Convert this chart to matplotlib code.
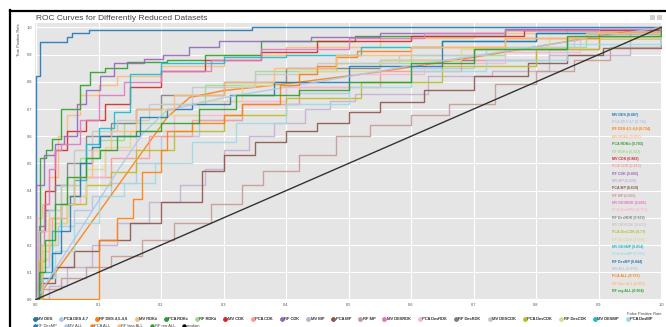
import matplotlib
matplotlib.use("Agg")
import matplotlib.pyplot as plt
from matplotlib.lines import Line2D
from matplotlib.patches import Rectangle

plt.rcParams["font.family"] = ["Liberation Sans", "DejaVu Sans"]

labels = [
    "MV DES", "PCA DES 4,7", "RF DES 4,5-4,6", "MV RDKit", "PCA RDKit", "RF RDKit",
    "MV CDK", "PCA CDK", "RF CDK", "MV MP", "PCA MP", "RF MP",
    "MV DESRDK", "PCA DesRDK", "RF DesRDK", "MV DESCDK", "PCA DesCDK", "RF DesCDK",
    "MV DESMP", "PCA DesMP", "RF DesMP", "MV ALL", "PCA ALL", "RF bias ALL", "RF reg ALL",
]
auc = [
    0.887, 0.736, 0.734, 0.857, 0.783, 0.822, 0.883, 0.812, 0.855, 0.835, 0.619, 0.605,
    0.881, 0.771, 0.839, 0.872, 0.77, 0.836, 0.854, 0.706, 0.844, 0.875, 0.737, 0.807, 0.904,
]
colors = [
    "#1f77b4", "#aec7e8", "#ff7f0e", "#ffbb78", "#2ca02c", "#98df8a", "#d62728", "#ff9896",
    "#9467bd", "#c5b0d5", "#8c564b", "#c49c94", "#e377c2", "#f7b6d2", "#7f7f7f", "#c7c7c7",
    "#bcbd22", "#dbdb8d", "#17becf", "#9edae5", "#1f77b4", "#aec7e8", "#ff7f0e", "#ffbb78",
    "#2ca02c",
]

# ROC points (fpr, tpr); most curves are staircases
fpr_mv_des = [0, 0, 0.007, 0.05, 0.057, 0.085, 0.345, 1]
tpr_mv_des = [0, 0.82, 0.946, 0.964, 0.98, 0.99, 1, 1]
fpr_pca_des = [0, 0.01, 0.02, 0.035, 0.06, 0.09, 0.12, 0.16, 0.2, 0.26, 0.33, 0.42, 0.5, 0.6, 0.7, 0.82, 0.9, 1]
tpr_pca_des = [0, 0.12, 0.2, 0.27, 0.33, 0.38, 0.43, 0.5, 0.6, 0.66, 0.72, 0.76, 0.8, 0.85, 0.88, 0.92, 0.96, 1]
fpr_rf_des = [0, 0.21, 0.246, 0.3, 0.39, 0.534, 0.7, 0.918, 1]
tpr_rf_des = [0, 0.67, 0.743, 0.768, 0.79, 0.832, 0.89, 0.975, 1]
fpr_mv_rdk = [0, 0, 0.01, 0.02, 0.035, 0.05, 0.07, 0.1, 0.13, 0.2, 0.3, 0.4, 0.55, 0.7, 0.85, 1]
tpr_mv_rdk = [0, 0.3, 0.35, 0.45, 0.6, 0.68, 0.75, 0.79, 0.82, 0.86, 0.9, 0.93, 0.96, 0.98, 0.99, 1]
fpr_pca_rdk = [0, 0.006, 0.016, 0.025, 0.04, 0.07, 0.086, 0.11, 0.146, 0.21, 0.27, 0.36, 0.51, 0.75, 1]
tpr_pca_rdk = [0, 0.52, 0.55, 0.59, 0.7, 0.79, 0.836, 0.85, 0.873, 0.88, 0.9, 0.95, 0.968, 0.99, 1]
fpr_rf_rdk = [0, 0.008, 0.02, 0.04, 0.07, 0.1, 0.14, 0.2, 0.27, 0.35, 0.48, 0.6, 0.75, 0.88, 1]
tpr_rf_rdk = [0, 0.15, 0.3, 0.42, 0.52, 0.585, 0.65, 0.72, 0.79, 0.84, 0.87, 0.9, 0.93, 0.97, 1]
fpr_mv_cdk = [0, 0.005, 0.015, 0.03, 0.05, 0.08, 0.11, 0.15, 0.2, 0.27, 0.36, 0.45, 0.6, 0.78, 1]
tpr_mv_cdk = [0, 0.25, 0.4, 0.55, 0.62, 0.66, 0.72, 0.78, 0.84, 0.88, 0.91, 0.95, 0.97, 0.99, 1]
fpr_pca_cdk = [0, 0.01, 0.025, 0.05, 0.08, 0.12, 0.18, 0.25, 0.33, 0.42, 0.55, 0.68, 0.8, 0.9, 1]
tpr_pca_cdk = [0, 0.2, 0.3, 0.38, 0.45, 0.52, 0.6, 0.66, 0.72, 0.78, 0.84, 0.88, 0.92, 0.96, 1]
fpr_rf_cdk = [0, 0, 0.012, 0.03, 0.045, 0.065, 0.08, 0.102, 0.124, 0.172, 0.203, 0.245, 0.293, 0.44, 0.55, 0.75, 1]
tpr_rf_cdk = [0, 0.42, 0.53, 0.57, 0.6, 0.72, 0.77, 0.823, 0.87, 0.885, 0.9, 0.93, 0.95, 0.965, 0.98, 0.995, 1]
fpr_mv_mp = [0, 0.02, 0.05, 0.09, 0.13, 0.18, 0.23, 0.27, 0.3, 0.34, 0.38, 0.43, 0.47, 0.51, 0.627, 0.73, 0.82, 0.95, 1]
tpr_mv_mp = [0, 0.05, 0.12, 0.2, 0.28, 0.36, 0.42, 0.48, 0.55, 0.6, 0.65, 0.7, 0.73, 0.757, 0.823, 0.84, 0.9, 0.98, 1]
fpr_pca_mp = [0, 0.005, 0.03, 0.06, 0.1, 0.15, 0.2, 0.265, 0.3, 0.35, 0.4, 0.45, 0.5, 0.55, 0.62, 0.7, 0.787, 0.85, 0.907, 1]
tpr_pca_mp = [0, 0.06, 0.12, 0.18, 0.22, 0.28, 0.36, 0.474, 0.53, 0.58, 0.62, 0.65, 0.69, 0.725, 0.77, 0.82, 0.868, 0.9, 0.923, 1]
fpr_rf_mp = [0, 0.01, 0.04, 0.08, 0.12, 0.17, 0.22, 0.28, 0.33, 0.363, 0.42, 0.48, 0.534, 0.6, 0.66, 0.734, 0.8, 0.86, 0.918, 1]
tpr_rf_mp = [0, 0.04, 0.08, 0.12, 0.16, 0.22, 0.28, 0.35, 0.42, 0.474, 0.53, 0.6, 0.643, 0.68, 0.72, 0.794, 0.84, 0.88, 0.927, 1]
fpr_mv_desrdk = [0, 0.005, 0.012, 0.02, 0.03, 0.04, 0.07, 0.1, 0.14, 0.2, 0.28, 0.36, 0.5, 0.62, 0.75, 0.9, 1]
tpr_mv_desrdk = [0, 0.2, 0.35, 0.48, 0.55, 0.57, 0.66, 0.75, 0.8, 0.84, 0.88, 0.92, 0.96, 0.98, 0.99, 0.995, 1]
fpr_pca_desrdk = [0, 0.01, 0.02, 0.04, 0.07, 0.11, 0.16, 0.22, 0.3, 0.4, 0.5, 0.62, 0.75, 0.87, 1]
tpr_pca_desrdk = [0, 0.15, 0.25, 0.35, 0.45, 0.55, 0.62, 0.68, 0.73, 0.78, 0.83, 0.87, 0.91, 0.96, 1]
fpr_rf_desrdk = [0, 0.005, 0.015, 0.03, 0.05, 0.08, 0.12, 0.16, 0.2, 0.3, 0.4, 0.55, 0.7, 0.85, 1]
tpr_rf_desrdk = [0, 0.27, 0.33, 0.42, 0.5, 0.6, 0.65, 0.7, 0.75, 0.8, 0.85, 0.88, 0.92, 0.96, 1]
fpr_mv_descdk = [0, 0.005, 0.02, 0.04, 0.06, 0.09, 0.13, 0.18, 0.25, 0.35, 0.45, 0.58, 0.72, 0.86, 1]
tpr_mv_descdk = [0, 0.25, 0.33, 0.42, 0.55, 0.62, 0.66, 0.72, 0.78, 0.83, 0.87, 0.9, 0.93, 0.97, 1]
fpr_pca_descdk = [0, 0.005, 0.015, 0.03, 0.05, 0.08, 0.12, 0.16, 0.22, 0.3, 0.4, 0.52, 0.65, 0.8, 0.9, 1]
tpr_pca_descdk = [0, 0.14, 0.2, 0.28, 0.35, 0.42, 0.47, 0.55, 0.62, 0.68, 0.74, 0.8, 0.86, 0.92, 0.96, 1]
fpr_rf_descdk = [0, 0.01, 0.03, 0.05, 0.08, 0.11, 0.15, 0.2, 0.26, 0.33, 0.42, 0.55, 0.68, 0.82, 1]
tpr_rf_descdk = [0, 0.2, 0.28, 0.38, 0.48, 0.56, 0.62, 0.68, 0.73, 0.79, 0.84, 0.88, 0.92, 0.96, 1]
fpr_mv_desmp = [0, 0.01, 0.025, 0.04, 0.06, 0.08, 0.1, 0.125, 0.15, 0.2, 0.3, 0.4, 0.52, 0.65, 0.8, 1]
tpr_mv_desmp = [0, 0.1, 0.25, 0.35, 0.44, 0.57, 0.63, 0.69, 0.83, 0.87, 0.89, 0.9, 0.93, 0.95, 0.98, 1]
fpr_pca_desmp = [0, 0.01, 0.03, 0.06, 0.1, 0.14, 0.19, 0.25, 0.32, 0.4, 0.5, 0.6, 0.72, 0.85, 1]
tpr_pca_desmp = [0, 0.08, 0.18, 0.28, 0.38, 0.43, 0.5, 0.58, 0.65, 0.72, 0.78, 0.84, 0.88, 0.94, 1]
fpr_rf_desmp = [0, 0.01, 0.025, 0.04, 0.055, 0.07, 0.09, 0.102, 0.166, 0.21, 0.25, 0.31, 0.38, 0.5, 0.65, 0.8, 1]
tpr_rf_desmp = [0, 0.08, 0.17, 0.25, 0.38, 0.5, 0.56, 0.6, 0.67, 0.7, 0.72, 0.75, 0.8, 0.86, 0.95, 0.98, 1]
fpr_mv_all = [0, 0.134, 0.171, 0.209, 0.305, 0.45, 0.6, 0.8, 1]
tpr_mv_all = [0, 0.485, 0.61, 0.695, 0.744, 0.8, 0.86, 0.93, 1]
fpr_pca_all = [0, 0.1, 0.13, 0.155, 0.17, 0.2, 0.21, 0.25, 0.3, 0.33, 0.39, 0.42, 0.45, 0.48, 0.514, 0.6, 0.75, 0.9, 1]
tpr_pca_all = [0, 0.22, 0.3, 0.37, 0.47, 0.55, 0.62, 0.65, 0.68, 0.72, 0.79, 0.83, 0.86, 0.89, 0.915, 0.93, 0.96, 0.98, 1]
fpr_rf_bias = [0, 0.01, 0.02, 0.04, 0.06, 0.09, 0.12, 0.16, 0.22, 0.3, 0.38, 0.48, 0.6, 0.75, 0.88, 1]
tpr_rf_bias = [0, 0.18, 0.3, 0.35, 0.45, 0.55, 0.62, 0.7, 0.75, 0.8, 0.85, 0.9, 0.93, 0.96, 0.98, 1]
fpr_rf_reg = [0, 0.005, 0.015, 0.03, 0.05, 0.08, 0.102, 0.13, 0.16, 0.2, 0.26, 0.32, 0.42, 0.5, 0.6, 0.7, 0.85, 1]
tpr_rf_reg = [0, 0.1, 0.22, 0.35, 0.45, 0.52, 0.55, 0.6, 0.62, 0.65, 0.7, 0.75, 0.77, 0.8, 0.87, 0.92, 0.97, 1]

curves = [
    (fpr_mv_des, tpr_mv_des), (fpr_pca_des, tpr_pca_des), (fpr_rf_des, tpr_rf_des),
    (fpr_mv_rdk, tpr_mv_rdk), (fpr_pca_rdk, tpr_pca_rdk), (fpr_rf_rdk, tpr_rf_rdk),
    (fpr_mv_cdk, tpr_mv_cdk), (fpr_pca_cdk, tpr_pca_cdk), (fpr_rf_cdk, tpr_rf_cdk),
    (fpr_mv_mp, tpr_mv_mp), (fpr_pca_mp, tpr_pca_mp), (fpr_rf_mp, tpr_rf_mp),
    (fpr_mv_desrdk, tpr_mv_desrdk), (fpr_pca_desrdk, tpr_pca_desrdk), (fpr_rf_desrdk, tpr_rf_desrdk),
    (fpr_mv_descdk, tpr_mv_descdk), (fpr_pca_descdk, tpr_pca_descdk), (fpr_rf_descdk, tpr_rf_descdk),
    (fpr_mv_desmp, tpr_mv_desmp), (fpr_pca_desmp, tpr_pca_desmp), (fpr_rf_desmp, tpr_rf_desmp),
    (fpr_mv_all, tpr_mv_all), (fpr_pca_all, tpr_pca_all), (fpr_rf_bias, tpr_rf_bias),
    (fpr_rf_reg, tpr_rf_reg),
]
# curves drawn as straight segments instead of steps
smooth = {"RF DES 4,5-4,6", "MV ALL"}

fig = plt.figure(figsize=(6.66, 3.27), dpi=100)
ax = fig.add_axes([35 / 666, 1 - 300 / 327, 627 / 666, 277 / 327])
ax.set_facecolor("#e5e5e5")
for s in ax.spines.values():
    s.set_visible(False)
ax.grid(True, color="white", lw=0.8)
ax.set_axisbelow(True)

for (fpr, tpr), lab, col in zip(curves, labels, colors):
    ds = "default" if lab in smooth else "steps-post"
    ax.plot(fpr, tpr, color=col, lw=1.0, alpha=0.9, drawstyle=ds)
ax.plot([0, 1], [0, 1], color="#333333", lw=1.0)

ax.set_xlim(-0.0016, 1.0016)
ax.set_ylim(-0.002, 1.0165)
ax.set_xticks([i / 10 for i in range(11)])
ax.set_yticks([i / 10 for i in range(11)])
ax.tick_params(length=0, labelsize=2.9, labelcolor="#555555", pad=2)
ax.set_xlabel("False Positive Rate", fontsize=2.9, color="#444444", loc="right", labelpad=4)
ax.set_ylabel("True Positive Rate", fontsize=2.9, color="#444444", loc="top", labelpad=4)

# AUC list on the right
for i, (lab, a, col) in enumerate(zip(labels, auc, colors)):
    y = (299 - (114.3 + 7.35 * i)) / 272
    ax.text(0.922, y, f"{lab} ({a})", color=col, fontsize=2.6, fontweight="bold",
            va="center", ha="left")

fig.text(36 / 666, 1 - 19 / 327, "ROC Curves for Differently Reduced Datasets",
         fontsize=6, color="#444444", va="center", ha="left")

# bottom legend, two flowing rows
handles = [Line2D([], [], marker="o", ls="none", color=c, markersize=2.2) for c in colors]
handles.append(Line2D([], [], marker="o", ls="none", color="black", markersize=2.2))
names = labels + ["random"]
leg_kw = dict(fontsize=2.9, frameon=False, handletextpad=0.2, columnspacing=1.85,
              handlelength=0.8, borderpad=0, borderaxespad=0, labelcolor="#444444")
leg1 = fig.legend(handles[:20], names[:20], loc="center left",
                  bbox_to_anchor=(33 / 666, 1 - 319 / 327), ncol=20, **leg_kw)
fig.add_artist(leg1)
fig.legend(handles[20:], names[20:], loc="center left",
           bbox_to_anchor=(33 / 666, 1 - 326 / 327), ncol=6, **leg_kw)

# screenshot frame and toolbar icons
fig.add_artist(Line2D([10 / 666, 1], [1 - 10.5 / 327] * 2, color="black", lw=1.6, transform=fig.transFigure))
fig.add_artist(Line2D([10.5 / 666] * 2, [0, 1 - 10 / 327], color="black", lw=1.6, transform=fig.transFigure))
for x0 in (650, 657):
    fig.add_artist(Rectangle((x0 / 666, 1 - 20 / 327), 5 / 666, 5 / 327, transform=fig.transFigure,
                             facecolor="#d0d0d0", edgecolor="none"))

fig.savefig("out.png", dpi=100)
